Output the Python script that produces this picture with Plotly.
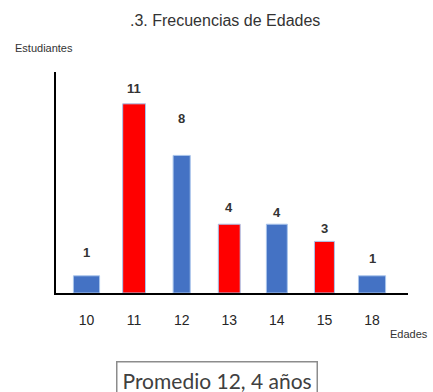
import plotly.graph_objects as go

# Age frequency data
edades = ["10", "11", "12", "13", "14", "15", "18"]
estudiantes = [1, 11, 8, 4, 4, 3, 1]

# Bar styling
AZUL = "#4472C4"
ROJO = "#FF0000"
colores = [AZUL, ROJO, AZUL, ROJO, AZUL, ROJO, AZUL]
anchos = [0.55, 0.48, 0.36, 0.46, 0.44, 0.42, 0.57]
desplaz_etiqueta = [23, 15, 37, 17, 12, 13, 17]

fig = go.Figure(
    go.Bar(
        x=edades,
        y=estudiantes,
        width=anchos,
        marker=dict(color=colores, line=dict(color="#A9C4EB", width=1)),
        hoverinfo="skip",
    )
)

# Value labels above each bar (category axis positions by index)
for i, (v, d) in enumerate(zip(estudiantes, desplaz_etiqueta)):
    fig.add_annotation(
        x=i, y=v, text=str(v), showarrow=False, yanchor="middle", yshift=d,
        font=dict(family="Liberation Sans", size=13, color="#333333", weight="bold"),
    )

# Axis captions
fig.add_annotation(
    xref="paper", yref="paper", x=-0.122, y=1.109, xanchor="left", yanchor="middle",
    text="Estudiantes", showarrow=False,
    font=dict(family="Liberation Sans", size=11, color="#333333"),
)
fig.add_annotation(
    xref="paper", yref="paper", x=0.943, y=-0.186, xanchor="left", yanchor="middle",
    text="Edades", showarrow=False,
    font=dict(family="Liberation Sans", size=11, color="#333333"),
)

# Average box
fig.add_annotation(
    xref="paper", yref="paper", x=0.457, y=-0.395, xanchor="center", yanchor="middle",
    text="Promedio 12, 4 años", showarrow=False,
    font=dict(family="Lato", size=21, color="#404040"),
    bordercolor="#8C8C8C", borderwidth=1.5, borderpad=5, bgcolor="white",
)

fig.update_layout(
    width=433, height=392,
    margin=dict(l=56, r=25, t=72, b=99),
    paper_bgcolor="white", plot_bgcolor="white",
    showlegend=False,
    title=dict(
        text=".3. Frecuencias de Edades",
        x=0.52, xanchor="center", y=1 - 20 / 392, yanchor="middle",
        font=dict(family="Liberation Sans", size=16, color="#333333"),
    ),
    xaxis=dict(
        type="category", range=[-0.641, 6.756],
        showline=True, linecolor="black", linewidth=2,
        showgrid=False, zeroline=False, ticks="",
        ticklabelstandoff=13,
        tickfont=dict(family="Liberation Sans", size=14, color="#262626"),
    ),
    yaxis=dict(
        range=[0, 12.85],
        showline=True, linecolor="black", linewidth=2,
        showgrid=False, zeroline=False, showticklabels=False, ticks="",
    ),
)

fig.write_html("out.html")
